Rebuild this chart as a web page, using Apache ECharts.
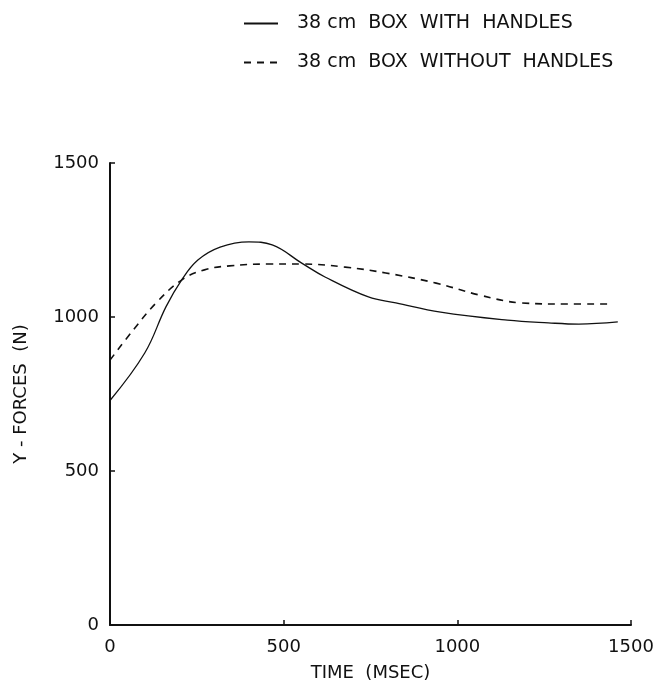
<!DOCTYPE html>
<html>
<head>
<meta charset="utf-8">
<script src="https://cdn.jsdelivr.net/npm/echarts@6/dist/echarts.min.js"></script>
<style>
  html, body { margin: 0; padding: 0; background: #fff; }
  #main { width: 661px; height: 691px; }
</style>
</head>
<body>
<div id="main"></div>
<script>
// 时间 (msec) 与 Y 方向力 (N)
const withHandles = [
  [0, 729], [100, 883], [161, 1033], [206, 1120], [253, 1185], [317, 1227],
  [400, 1244], [467, 1234], [552, 1175], [619, 1130], [744, 1065], [823, 1046],
  [952, 1016], [1144, 990], [1262, 981], [1350, 977], [1462, 984]
];
const withoutHandles = [
  [0, 860], [67, 958], [133, 1046], [206, 1120], [272, 1153], [344, 1166],
  [456, 1172], [552, 1172], [677, 1162], [794, 1143], [939, 1110], [1065, 1071],
  [1182, 1046], [1311, 1042], [1443, 1042]
];
const seriesNames = ['38 cm  BOX  WITH  HANDLES', '38 cm  BOX  WITHOUT  HANDLES'];
const ticks = { min: 0, max: 1500, step: 500 };

const font = 'DejaVu Sans';
const ink = '#111';

const chart = echarts.init(document.getElementById('main'), null, { renderer: 'canvas' });

const axisCommon = {
  type: 'value',
  min: ticks.min,
  max: ticks.max,
  interval: ticks.step,
  splitLine: { show: false },
  axisLine: { show: true, lineStyle: { color: ink, width: 2 } },
  axisTick: { show: true, inside: true, length: 5, lineStyle: { color: ink, width: 1.5 } },
  axisLabel: { color: ink, fontFamily: font, fontSize: 18, formatter: v => String(v) },
  nameTextStyle: { color: ink, fontFamily: font, fontSize: 18 }
};

const option = {
  backgroundColor: '#fff',
  animation: false,
  grid: { left: 110, right: 30, top: 163, bottom: 66 },
  legend: {
    orient: 'vertical',
    left: 238,
    top: 9,
    itemWidth: 34,
    itemHeight: 10,
    itemGap: 20,
    itemStyle: { opacity: 0 },
    textStyle: { color: ink, fontFamily: font, fontSize: 19, padding: [0, 0, 0, 14] },
    data: seriesNames
  },
  xAxis: Object.assign({}, axisCommon, {
    name: 'TIME  (MSEC)',
    nameLocation: 'middle',
    nameGap: 39,
    axisLabel: Object.assign({}, axisCommon.axisLabel, { margin: 13 })
  }),
  yAxis: Object.assign({}, axisCommon, {
    name: 'Y - FORCES  (N)',
    nameLocation: 'middle',
    nameGap: 80,
    nameRotate: 90,
    axisLabel: Object.assign({}, axisCommon.axisLabel, { margin: 11 })
  }),
  series: [
    {
      name: seriesNames[0],
      type: 'line',
      data: withHandles,
      smooth: 0.4,
      symbol: 'none',
      lineStyle: { color: ink, width: 1.3, type: 'solid' },
      itemStyle: { color: ink }
    },
    {
      name: seriesNames[1],
      type: 'line',
      data: withoutHandles,
      smooth: 0.4,
      symbol: 'none',
      lineStyle: { color: ink, width: 1.6, type: [7, 6] },
      itemStyle: { color: ink }
    }
  ]
};

chart.setOption(option);
</script>
</body>
</html>
